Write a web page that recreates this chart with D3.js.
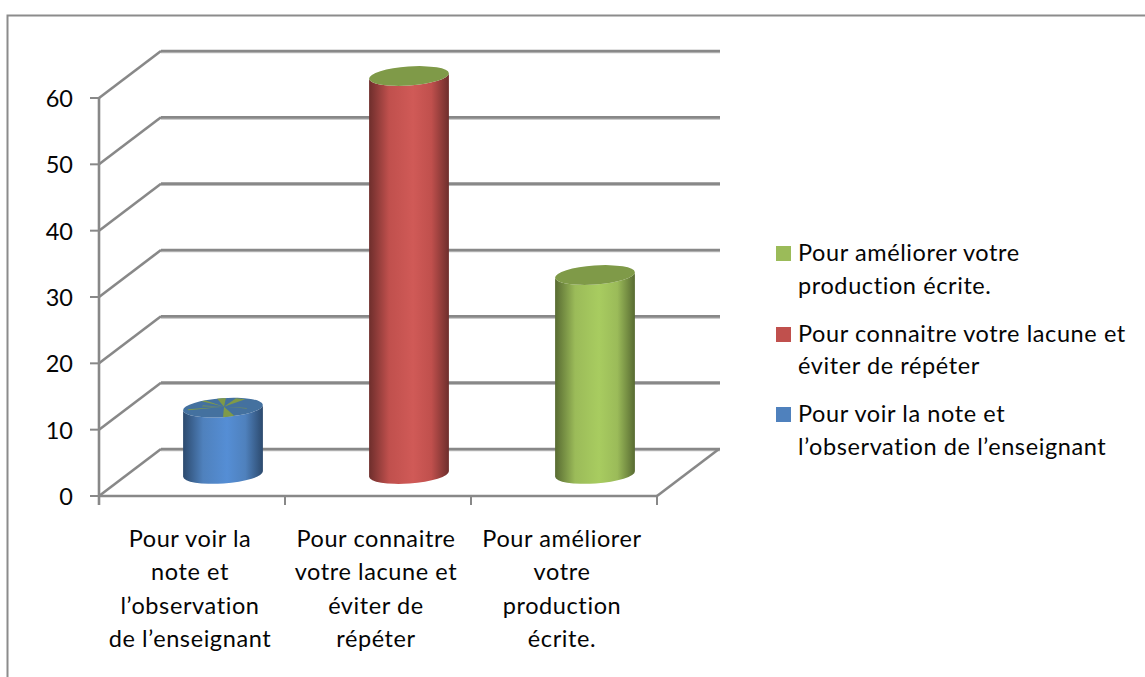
<!DOCTYPE html>
<html><head><meta charset="utf-8">
<script src="https://cdn.jsdelivr.net/npm/d3@7"></script>
<style>html,body{margin:0;padding:0;background:#fff}svg{display:block}text{font-family:Lato,"Open Sans",sans-serif;fill:#050505;font-size:23.5px;letter-spacing:.6px;font-variant-ligatures:none}</style>
</head><body><svg width="1145" height="677"></svg>
<script>
const categories=[["Pour voir la","note et","l’observation","de l’enseignant"],["Pour connaitre","votre lacune et","éviter de","répéter"],["Pour améliorer","votre","production","écrite."]];
const values=[10,60,30];
const seriesColors=["#4f81bd","#c0504d","#9bbb59"];
const edgeColors=["#2c4a6e","#6e2e2c","#586b32"];
const midColors=["#558ed5","#d05a57","#a8cc60"];
const capColors=["#44719f","#7f9a48","#7f9a48"];
const legendItems=[{lines:["Pour améliorer votre","production écrite."],c:2},{lines:["Pour connaitre votre lacune et","éviter de répéter"],c:1},{lines:["Pour voir la note et","l’observation de l’enseignant"],c:0}];
const ticks=[0,10,20,30,40,50,60];
const rayStart=[-99,-72,-128,163,72,4,195];
const rayEnd=[-86,-58,-120,170,90,8,205];
const rayReach=[1.05,1.05,.9,.9,1.05,.6,.55];

const svg=d3.select("svg");
const x=d3.scaleBand().domain([0,1,2]).range([99,657]);
const y=d3.scaleLinear().domain([0,60]).range([496,98]);
const dx=62,dy=-47;
const grid="#888888",gridLight="#bdbdbd";

svg.append("path").attr("d","M7.5,677V15.5H1145").attr("fill","none").attr("stroke","#8c8c8c").attr("stroke-width",2);

const g=svg.append("g").attr("fill","none");
function ln(x1,y1,x2,y2,w=2.6,c=grid){g.append("line").attr("x1",x1).attr("y1",y1).attr("x2",x2).attr("y2",y2).attr("stroke",c).attr("stroke-width",w);}
ticks.forEach(t=>{
  const yy=y(t);
  ln(161,yy+dy+1.6,720,yy+dy+1.6,1.4,gridLight);
  ln(99,yy,99+dx,yy+dy);
  ln(99+dx,yy+dy,720,yy+dy);
  ln(90,yy,99,yy,2);
});
ln(99,y(60),99,505);
ln(99,y(0),657,y(0));
ln(657,y(0),657+dx,y(0)+dy);
x.domain().forEach(d=>{ln(x(d)+x.bandwidth(),y(0),x(d)+x.bandwidth(),505,2);});

svg.append("g").selectAll("text").data(ticks).join("text")
  .attr("x",73).attr("y",d=>y(d)+9).attr("text-anchor","end").style("letter-spacing","0").text(d=>d);
categories.forEach((lines,i)=>{
  const cx=x(i)+x.bandwidth()/2-2;
  lines.forEach((s,j)=>svg.append("text").attr("x",cx).attr("y",547+j*33.4).attr("text-anchor","middle").text(s));
});

const defs=svg.append("defs");
const rx=40,ry=9.5,rot=-4;
values.forEach((v,i)=>{
  const grad=defs.append("linearGradient").attr("id","g"+i);
  [[0,edgeColors[i]],[.25,seriesColors[i]],[.55,midColors[i]],[.78,seriesColors[i]],[1,edgeColors[i]]]
    .forEach(([o,c])=>grad.append("stop").attr("offset",o).attr("stop-color",c));
  const cx=x(i)+x.bandwidth()/2+dx/2;
  const by=y(0)+dy/2+1.5, ty=y(v)+dy/2+1.5;
  const a=rot*Math.PI/180;
  const ex=rx*Math.cos(a), ey=rx*Math.sin(a);
  const c=svg.append("g");
  c.append("path").attr("fill",`url(#g${i})`)
    .attr("d",`M${cx-ex},${ty-ey}L${cx-ex},${by-ey}A${rx},${ry} ${rot} 0 0 ${cx+ex},${by+ey}L${cx+ex},${ty+ey}A${rx},${ry} ${rot} 0 1 ${cx-ex},${ty-ey}Z`);
  c.append("ellipse").attr("cx",cx).attr("cy",ty).attr("rx",rx).attr("ry",ry)
    .attr("transform",`rotate(${rot} ${cx} ${ty})`).attr("fill",capColors[i]);
  if(i===0){
    defs.append("clipPath").attr("id","capclip").append("ellipse").attr("cx",cx).attr("cy",ty).attr("rx",rx).attr("ry",ry).attr("transform",`rotate(${rot} ${cx} ${ty})`);
    const rg=c.append("g").attr("clip-path","url(#capclip)").attr("fill","#7f9a48");
    const px=d=>d*Math.PI/180;
    rayStart.forEach((s,k)=>{
      const e=rayEnd[k],f=rayReach[k];
      const ix=cx+1,iy=ty-1;
      rg.append("path").attr("d",`M${ix},${iy}L${cx+rx*f*Math.cos(px(s))},${ty+ry*f*Math.sin(px(s))}L${cx+rx*f*Math.cos(px(e))},${ty+ry*f*Math.sin(px(e))}Z`);
    });
  }
});

const ly=[[253,286],[334,366],[414,447]];
legendItems.forEach((it,i)=>{
  svg.append("rect").attr("x",776).attr("y",ly[i][0]-7).attr("width",15).attr("height",15).attr("fill",seriesColors[it.c]);
  it.lines.forEach((s,j)=>svg.append("text").attr("x",798).attr("y",ly[i][j]+8).text(s));
});
</script></body></html>
